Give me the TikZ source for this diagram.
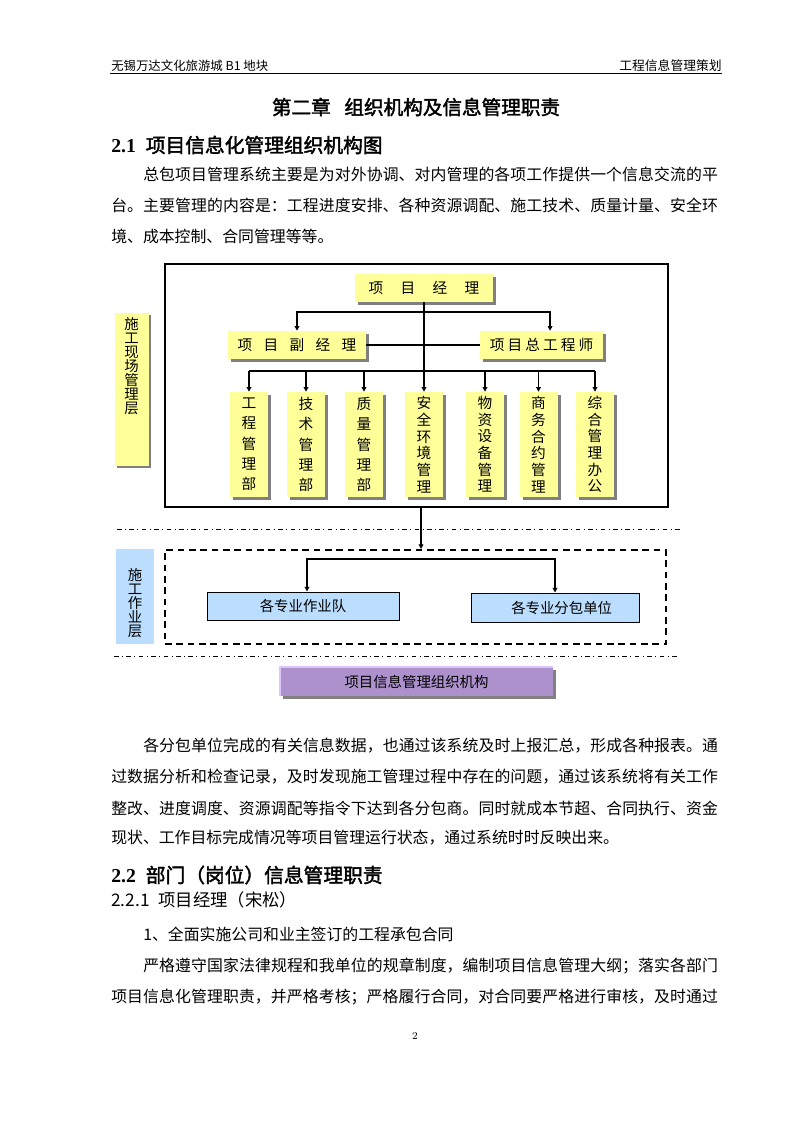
\documentclass[tikz,border=0pt]{standalone}
\usepackage{fontspec}
\usetikzlibrary{positioning,shadows,arrows.meta}

\newfontfamily\cjk{Noto Sans CJK SC}
\newfontfamily\cjkbold[FakeBold=2]{Noto Sans CJK SC}
\newfontfamily\numserif{Liberation Serif}

\definecolor{boxyellow}{RGB}{255,255,153}
\definecolor{shadowgray}{RGB}{128,128,128}
\definecolor{boxblue}{RGB}{187,222,255}
\definecolor{boxpurple}{RGB}{173,145,204}
\definecolor{edgepurple}{RGB}{222,196,255}

\newcommand{\bodyfont}{\cjk\fontsize{11.9}{14}\selectfont\XeTeXlinebreaklocale "zh"\XeTeXlinebreakskip=0pt plus 4pt\relax}

\tikzstyle{para} = [anchor=west, inner sep=0pt, font=\bodyfont]
\tikzstyle{fullline} = [para, text width=455pt, align=justify, execute at begin node={\noindent\parfillskip=0pt\relax}]
\tikzstyle{firstline} = [fullline, text width=431pt]
\tikzstyle{ybox} = [rectangle, fill=boxyellow, inner sep=0pt, font=\cjk\fontsize{11}{12}\selectfont, drop shadow={shadow xshift=2.25pt, shadow yshift=-2.25pt, opacity=1, fill=shadowgray}]
\tikzstyle{mgrbox} = [ybox, minimum height=21pt]
\tikzstyle{dept} = [ybox, minimum width=28.5pt, minimum height=78.75pt, align=center, font=\cjk\fontsize{11}{12.5}\selectfont]
\tikzstyle{deptloose} = [dept, font=\cjk\fontsize{11}{15.2}\selectfont]
\tikzstyle{tierbox} = [rectangle, inner sep=0pt]
\tikzstyle{vtext} = [align=center, inner sep=0pt, font=\cjk\fontsize{10.8}{10.5}\selectfont]
\tikzstyle{crewbox} = [rectangle, draw=black, line width=0.75pt, fill=boxblue, inner sep=0pt, minimum height=21pt, font=\cjk\fontsize{10.8}{12}\selectfont]
\tikzstyle{arrow} = [line width=0.9pt, -{Triangle[length=3.5pt,width=3.5pt]}]
\tikzstyle{link} = [line width=0.9pt]
\tikzstyle{dashdot} = [line width=0.75pt, dash pattern=on 3.5pt off 2.5pt on 0.8pt off 2.5pt]

\begin{document}
\begin{tikzpicture}[x=0.75pt, y=-0.75pt]

\fill[white] (0,0) rectangle (794,1123);
\useasboundingbox (0,0) rectangle (794,1123);

% page header
\node (hdleft) [anchor=west, inner sep=0pt, font=\cjk\fontsize{9.3}{11}\selectfont] at (111,66) {无锡万达文化旅游城 B1 地块};
\node (hdright) [anchor=east, inner sep=0pt, font=\cjk\fontsize{9.6}{11}\selectfont] at (722,66) {工程信息管理策划};
\draw[line width=0.75pt] (110,74) -- (722,74);

\node (chapter) [font=\cjkbold\fontsize{14.7}{16}\selectfont] at (416,107) {第二章\hspace{0.7em}组织机构及信息管理职责};
\node (sec21) [anchor=west, inner sep=0pt, font=\cjkbold\fontsize{14.8}{16}\selectfont] at (111,145) {{\numserif\bfseries 2.1}\hspace{0.5em}项目信息化管理组织机构图};

\node (p1a) [firstline] at (143,174) {总包项目管理系统主要是为对外协调、对内管理的各项工作提供一个信息交流的平};
\node (p1b) [fullline] at (111,205) {台。主要管理的内容是：工程进度安排、各种资源调配、施工技术、质量计量、安全环};
\node (p1c) [para] at (111,236) {境、成本控制、合同管理等等。};

% site management tier
\node (siteframe) [rectangle, draw=black, line width=1.6pt, minimum width=377.25pt, minimum height=182.25pt] at (416.5,385.5) {};
\node (sitelbl) [tierbox, fill=boxyellow, minimum width=25.5pt, minimum height=114.75pt, drop shadow={shadow xshift=1.5pt, shadow yshift=-1.5pt, opacity=1, fill=shadowgray}] at (132,389.5) {};
\node (sitetxt) [vtext] at (131.5,366.5) {施\\工\\现\\场\\管\\理\\层};

\node (pm) [mgrbox, minimum width=103.5pt] at (424,288) {项\hspace{13pt}目\hspace{13pt}经\hspace{13pt}理};
\node (fjl) [mgrbox, minimum width=103.5pt] at (297,345) {项\hspace{8.5pt}目\hspace{8.5pt}副\hspace{8.5pt}经\hspace{8.5pt}理};
\node (zgs) [mgrbox, minimum width=92.25pt] at (541.5,345) {项\hspace{2.3pt}目\hspace{2.3pt}总\hspace{2.3pt}工\hspace{2.3pt}程\hspace{2.3pt}师};

\node (gc) [deptloose] at (249,444.5) {工\\程\\管\\理\\部};
\node (js) [deptloose] at (306,444.5) {技\\术\\管\\理\\部};
\node (zl) [deptloose] at (364,444.5) {质\\量\\管\\理\\部};
\node (aq) [dept] at (424,444.5) {安\\全\\环\\境\\管\\理};
\node (wz) [dept] at (485,444.5) {物\\资\\设\\备\\管\\理};
\node (sw) [dept] at (538.5,444.5) {商\\务\\合\\约\\管\\理};
\node (zh) [dept] at (595,444.5) {综\\合\\管\\理\\办\\公};

\coordinate (split) at (424,312);
\coordinate (bus) at (424,371);
\draw[arrow] (pm) -- (aq);
\draw[arrow] (split) -| (fjl.north);
\draw[arrow] (split) -| ([xshift=6.4pt]zgs.north);
\draw[link] (fjl) -- (zgs);
\draw[link] (gc.north |- bus) -- (zh.north |- bus);
\foreach \d in {gc,js,zl,wz,sw,zh}
  \draw[arrow] (\d.north |- bus) -- (\d.north);

\draw[dashdot] (117,529) -- (680,529);

% work tier
\node (workframe) [rectangle, draw=black, line width=1.5pt, dash pattern=on 5pt off 3.5pt, minimum width=375.75pt, minimum height=70.5pt] at (415.5,597) {};
\node (worklbl) [tierbox, fill=boxblue, minimum width=28.5pt, minimum height=71.25pt] at (135,596.5) {};
\node (worktxt) [vtext] at (135,603) {施\\工\\作\\业\\层};

\draw[arrow] ([xshift=3.4pt]siteframe.south) -- ([xshift=3.4pt]siteframe.south |- workframe.north);

\node (team) [crewbox, minimum width=144pt] at (303,606) {各专业作业队};
\node (sub) [crewbox, minimum width=126pt, minimum height=21.75pt] at (555,607.5) {\hspace{10pt}各专业分包单位};

\coordinate (wbar) at (424,559);
\draw[arrow] (wbar) -| ([xshift=3pt]team.north);
\draw[arrow] (wbar) -| (sub.north);

\draw[dashdot] (114,656) -- (678,656);

\node (caption) [rectangle, fill=boxpurple, inner sep=0pt, minimum width=204.75pt, minimum height=21.75pt, font=\cjk\fontsize{10.8}{12}\selectfont, drop shadow={shadow xshift=2.25pt, shadow yshift=-2.25pt, opacity=1, fill=shadowgray}] at (416.5,681.5) {项目信息管理组织机构};
\draw[edgepurple, line width=1.8pt] (caption.south west) -- (caption.north west) -- (caption.north east);

% text below the chart
\node (p2a) [firstline] at (143,746) {各分包单位完成的有关信息数据，也通过该系统及时上报汇总，形成各种报表。通};
\node (p2b) [fullline] at (111,777) {过数据分析和检查记录，及时发现施工管理过程中存在的问题，通过该系统将有关工作};
\node (p2c) [fullline] at (111,808) {整改、进度调度、资源调配等指令下达到各分包商。同时就成本节超、合同执行、资金};
\node (p2d) [para] at (111,838) {现状、工作目标完成情况等项目管理运行状态，通过系统时时反映出来。};

\node (sec22) [anchor=west, inner sep=0pt, font=\cjkbold\fontsize{14.8}{16}\selectfont] at (111,875) {{\numserif\bfseries 2.2}\hspace{0.5em}部门（岗位）信息管理职责};
\node (sec221) [anchor=west, inner sep=0pt, font=\cjk\fontsize{13}{15}\selectfont] at (111,900) {2.2.1\hspace{0.5em}项目经理（宋松）};

\node (item1) [para] at (143,934) {1、全面实施公司和业主签订的工程承包合同};
\node (p3a) [firstline] at (143,966) {严格遵守国家法律规程和我单位的规章制度，编制项目信息管理大纲；落实各部门};
\node (p3b) [fullline] at (111,997) {项目信息化管理职责，并严格考核；严格履行合同，对合同要严格进行审核，及时通过};

\node (pageno) [font=\fontsize{7.9}{9}\selectfont] at (415,1036) {2};

\end{tikzpicture}
\end{document}
